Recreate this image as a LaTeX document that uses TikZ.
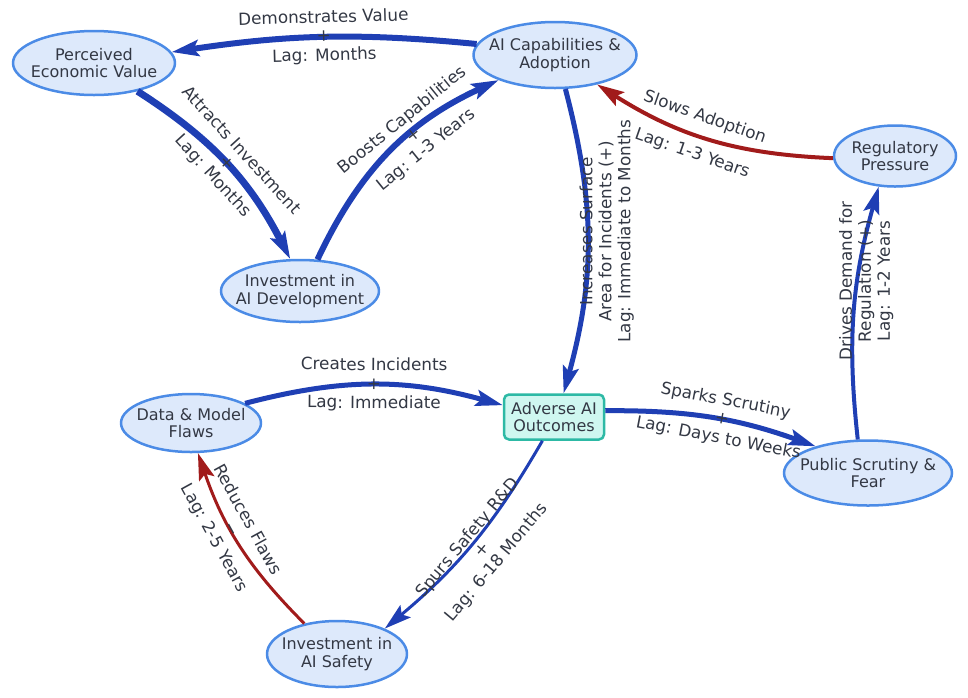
\documentclass[tikz,border=0pt]{standalone}
\usepackage{fontspec}
\setmainfont{DejaVu Sans}
\usetikzlibrary{arrows.meta,shapes.geometric}
\definecolor{varfill}{HTML}{DDE9FB}
\definecolor{varline}{HTML}{4B8BE6}
\definecolor{outfill}{HTML}{CFF7F0}
\definecolor{outline}{HTML}{2DB9A5}
\definecolor{posedge}{HTML}{1F3FB4}
\definecolor{negedge}{HTML}{A11B1B}
\definecolor{txtcol}{HTML}{333844}
\begin{document}
\begin{tikzpicture}[x=1pt,y=-1pt,line join=bevel,
  >={Stealth[length=27pt,width=16pt,inset=5pt]},
  every node/.style={text=txtcol,font=\fontsize{16}{17.5}\selectfont},
  var/.style={ellipse,draw=varline,fill=varfill,line width=2.5pt,align=center,
    inner xsep=-18pt,inner ysep=0pt},
  outcome/.style={rectangle,rounded corners=5pt,draw=outline,fill=outfill,
    line width=2.5pt,align=center,minimum width=100pt,minimum height=45pt,inner sep=0pt},
  poslink/.style={->,draw=posedge},
  neglink/.style={->,draw=negedge},
  elabel/.style={sloped,align=center,inner sep=0pt,font=\fontsize{16.8}{19}\selectfont},
  vlabel/.style={align=center,inner sep=0pt,font=\fontsize{16.8}{19}\selectfont},
]
\useasboundingbox (0,0) rectangle (968,697);
%%
  % Node: perceived
  \node[var,minimum width=162pt,minimum height=64pt] (perceived) at (94,63) {Perceived\\Economic Value};
  % Node: capab
  \node[var,minimum width=163pt,minimum height=66pt] (capab) at (555,55) {AI Capabilities \&\\Adoption};
  % Node: invdev
  \node[var,minimum width=158pt,minimum height=62pt] (invdev) at (300,291) {Investment in\\AI Development};
  % Node: regul
  \node[var,minimum width=122pt,minimum height=61pt] (regul) at (895,156) {Regulatory\\Pressure};
  % Node: flaws
  \node[var,minimum width=140pt,minimum height=58pt] (flaws) at (191,423) {Data \& Model\\Flaws};
  % Node: adverse
  \node[outcome] (adverse) at (554,417) {Adverse AI\\Outcomes};
  % Node: scrutiny
  \node[var,minimum width=168pt,minimum height=65pt] (scrutiny) at (868,473) {Public Scrutiny \&\\Fear};
  % Node: invsafe
  \node[var,minimum width=140pt,minimum height=66pt] (invsafe) at (337,654) {Investment in\\AI Safety};
%
  % Edge: capab -> perceived
  \draw[poslink,line width=6pt] (capab.172) to[bend right=7]
    node[elabel] {Demonstrates Value\\+\\Lag: Months} (perceived.8);
  % Edge: perceived -> invdev
  \draw[poslink,line width=7pt] (perceived.327) to[bend left=15]
    node[elabel,pos=0.5] {Attracts Investment\\+\\Lag: Months} (invdev.107);
  % Edge: invdev -> capab
  \draw[poslink,line width=6pt] (invdev.61) to[bend left=20]
    node[elabel,pos=0.62,yshift=-4pt] {Boosts Capabilities\\+\\Lag: 1-3 Years} (capab.204);
  % Edge: regul -> capab
  \draw[neglink,line width=4pt] (regul.182) to[bend left=15]
    node[elabel,pos=0.55] {Slows Adoption\\\strut\\Lag: 1-3 Years} (capab.325);
  % Edge: capab -> adverse
  \draw[poslink,line width=5pt] (capab.287) to[bend left=15]
    node[vlabel,xshift=19pt,yshift=10pt,rotate=90] {Increases Surface\\Area for Incidents (+)\\Lag: Immediate to Months} (adverse.68);
  % Edge: flaws -> adverse
  \draw[poslink,line width=5pt] (flaws.20) to[bend left=15]
    node[elabel] {Creates Incidents\\+\\Lag: Immediate} (adverse.167);
  % Edge: adverse -> scrutiny
  \draw[poslink,line width=5pt] (adverse.7) to[bend left=10]
    node[elabel,pos=0.55] {Sparks Scrutiny\\+\\Lag: Days to Weeks} (scrutiny.153);
  % Edge: scrutiny -> regul
  \draw[poslink,line width=4pt] (scrutiny.107) to[bend left=11]
    node[vlabel,xshift=12pt,yshift=31pt,rotate=90] {Drives Demand for\\Regulation (+)\\Lag: 1-2 Years} (regul.242);
  % Edge: adverse -> invsafe
  \draw[poslink,line width=3pt] (adverse.244) to[bend left=10]
    node[elabel,yshift=-12pt] {Spurs Safety R\&D\\+\\Lag: 6-18 Months} (invsafe.28);
  % Edge: invsafe -> flaws
  \draw[neglink,line width=3pt] (invsafe.137) to[bend left=13]
    node[elabel,pos=0.6] {Reduces Flaws\\−\\Lag: 2-5 Years} (flaws.283);
%
\end{tikzpicture}
\end{document}
